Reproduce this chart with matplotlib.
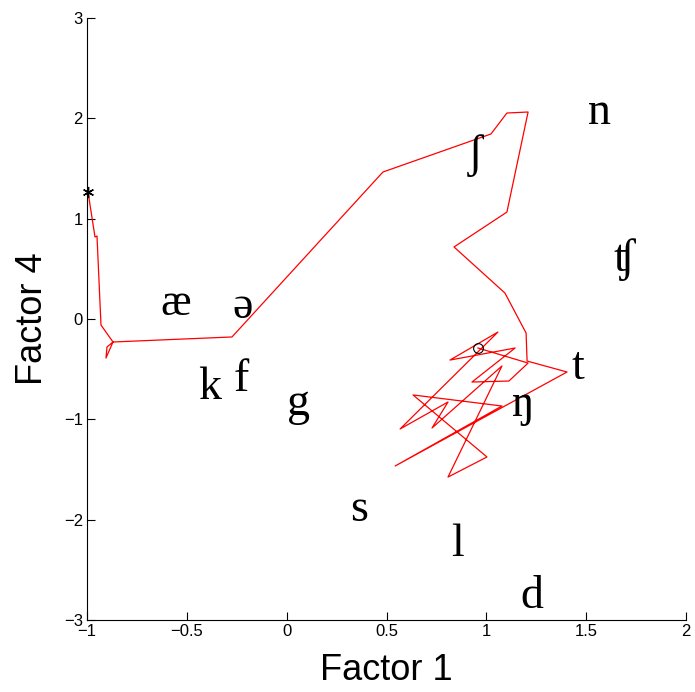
import matplotlib
matplotlib.use("Agg")
import matplotlib.pyplot as plt

# trajectory in factor space (factor 1, factor 4)
path_x = [-0.995, -0.960, -0.950, -0.930, -0.870, -0.905, -0.900, -0.870,
          -0.274, 0.482, 1.023, 1.103, 1.209, 1.103, 0.838, 1.093, 1.199,
          1.204, 1.404, 0.543, 1.078, 0.633, 1.003, 0.808, 1.078, 0.728,
          0.808, 0.568, 1.058, 0.818, 1.144, 0.928, 1.113, 1.209, 0.958]
path_y = [1.266, 0.817, 0.827, -0.060, -0.229, -0.389, -0.279, -0.229,
          -0.179, 1.465, 1.844, 2.053, 2.063, 1.066, 0.718, 0.259, -0.140,
          -0.419, -0.528, -1.465, -0.867, -0.757, -1.375, -1.575, -0.468, -1.086,
          -0.827, -1.096, -0.130, -0.409, -0.289, -0.628, -0.618, -0.439, -0.289]

# phoneme positions
phones = ["æ", "ə", "k", "f", "g", "s", "l", "d", "ŋ", "t", "n", "ʧ", "ʃ"]
phone_x = [-0.554, -0.219, -0.384, -0.229, 0.057, 0.362, 0.853, 1.229,
           1.184, 1.459, 1.569, 1.689, 0.943]
phone_y = [0.15, 0.12, -0.69, -0.61, -0.84, -1.90, -2.25, -2.77,
           -0.85, -0.49, 2.06, 0.59, 1.63]

fig = plt.figure(figsize=(6.95, 6.92), dpi=100)
ax = fig.add_axes([0.1252, 0.104, 0.8619, 0.870])

ax.plot(path_x, path_y, color="red", lw=0.9, clip_on=False)
ax.plot(path_x[0], path_y[0], marker=(6, 2, 0), color="black", ms=8, mew=1,
        ls="none", clip_on=False, zorder=5)
ax.plot(path_x[-1], path_y[-1], marker="o", mfc="none", mec="black", ms=7, mew=0.8,
        ls="none", zorder=5)

for p, x, y in zip(phones, phone_x, phone_y):
    ax.text(x, y, p, ha="center", va="center", fontsize=33,
            family=["Liberation Serif", "DejaVu Serif"])

ax.set_xlim(-1, 2)
ax.set_ylim(-3, 3)
ax.set_xticks([-1, -0.5, 0, 0.5, 1, 1.5, 2])
ax.set_xticklabels(["\u22121", "\u22120.5", "0", "0.5", "1", "1.5", "2"])
ax.set_yticks([-3, -2, -1, 0, 1, 2, 3])
ax.set_yticklabels(["\u22123", "\u22122", "\u22121", "0", "1", "2", "3"])
ax.tick_params(direction="in", length=6, labelsize=12, pad=3)
for lab in ax.get_xticklabels() + ax.get_yticklabels():
    lab.set_family("Liberation Sans")
ax.spines["top"].set_visible(False)
ax.spines["right"].set_visible(False)

ax.set_xlabel("Factor 1", fontsize=26, family="Liberation Sans", labelpad=10)
ax.set_ylabel("Factor 4", fontsize=26, family="Liberation Sans", labelpad=10)

fig.savefig("out.png", dpi=100)
